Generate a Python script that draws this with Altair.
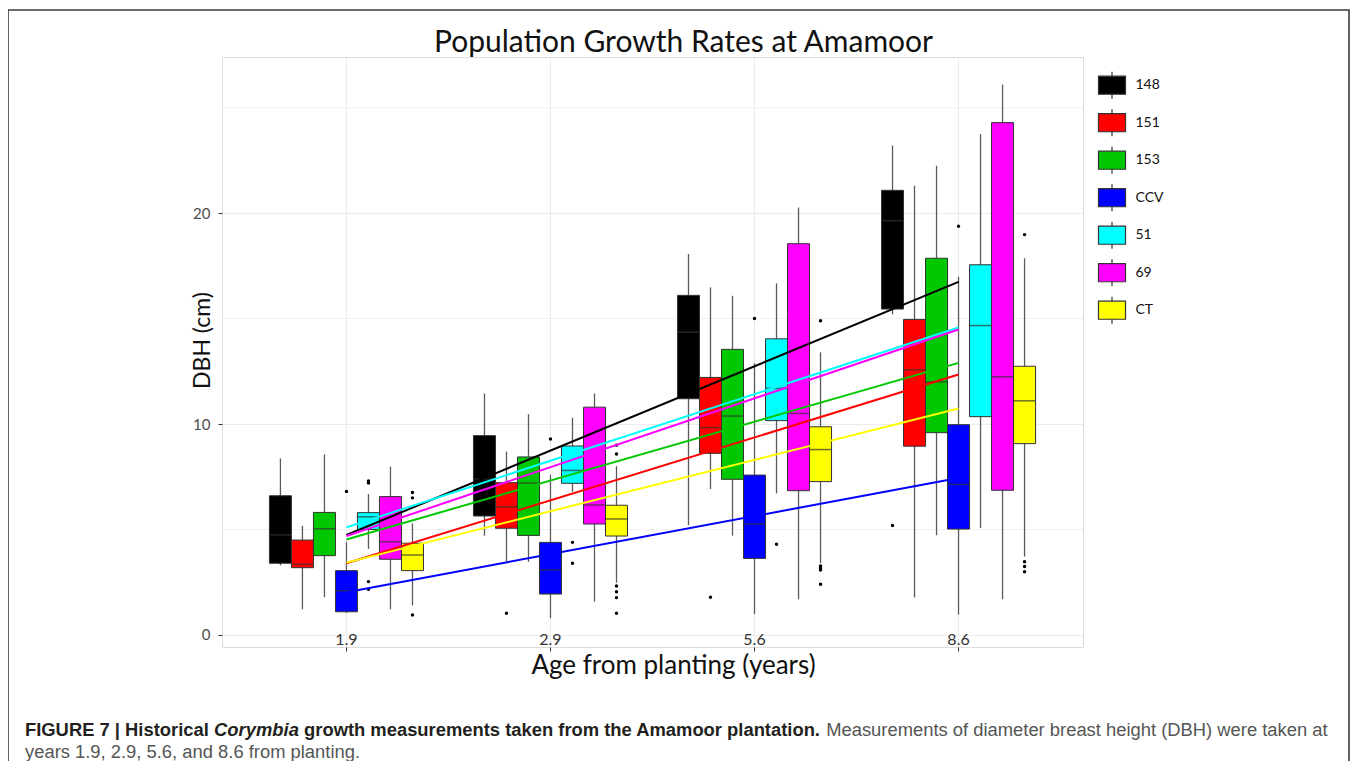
import altair as alt
import pandas as pd

# ---------------- data ----------------
ages = ["1.9", "2.9", "5.6", "8.6"]
groups = ["148", "151", "153", "CCV", "51", "69", "CT"]
colors = ["#000000", "#FF0000", "#00C800", "#0000FF", "#00FFFF", "#FF00FF", "#FFFF00"]

# rows = ages, columns = groups (same order as `groups`)
whisker_low = [
    [3.3, 1.22, 1.79, 1.05, 4.08, 1.22, 1.4],
    [4.71, 3.47, 3.47, 0.79, 6.79, 1.58, 2.48],
    [5.21, 6.92, 4.71, 0.99, 6.71, 1.69, 3.4],
    [15.2, 1.78, 4.73, 0.97, 5.07, 1.69, 3.72],
]
q1 = [
    [3.4, 3.19, 3.76, 1.1, 5.0, 3.59, 3.05],
    [5.64, 5.06, 4.72, 1.94, 7.19, 5.26, 4.69],
    [11.2, 8.61, 7.38, 3.63, 10.16, 6.84, 7.27],
    [15.45, 8.95, 9.59, 5.02, 10.35, 6.86, 9.07],
]
median = [
    [4.74, 3.35, 5.04, 2.1, 5.6, 4.42, 3.79],
    [7.39, 6.08, 7.2, 3.08, 7.8, 6.16, 5.5],
    [14.35, 9.83, 10.38, 5.26, 11.69, 10.5, 8.79],
    [19.64, 12.57, 12.0, 7.14, 14.67, 12.24, 11.1],
]
q3 = [
    [6.6, 4.5, 5.81, 3.05, 5.8, 6.56, 4.35],
    [9.45, 7.22, 8.44, 4.39, 8.96, 10.8, 6.15],
    [16.1, 12.21, 13.54, 7.58, 14.04, 18.55, 9.87],
    [21.08, 14.96, 17.86, 9.97, 17.55, 24.29, 12.74],
]
whisker_high = [
    [8.37, 5.18, 8.56, 4.4, 6.68, 7.98, 5.29],
    [11.45, 8.69, 10.47, 7.6, 10.3, 11.45, 8.0],
    [18.06, 16.48, 16.08, 12.88, 16.67, 20.27, 13.4],
    [23.2, 21.3, 22.25, 16.98, 23.75, 26.1, 17.86],
]

outlier_age = ["1.9", "1.9", "1.9", "1.9", "1.9", "1.9", "1.9", "1.9",
               "2.9", "2.9", "2.9", "2.9", "2.9", "2.9", "2.9", "2.9", "2.9", "2.9",
               "5.6", "5.6", "5.6", "5.6", "5.6", "5.6", "5.6", "5.6",
               "8.6", "8.6", "8.6", "8.6", "8.6", "8.6"]
outlier_group = ["CCV", "51", "51", "51", "51", "CT", "CT", "CT",
                 "151", "CCV", "51", "51", "CT", "CT", "CT", "CT", "CT", "CT",
                 "151", "CCV", "51", "CT", "CT", "CT", "CT", "CT",
                 "148", "CCV", "CT", "CT", "CT", "CT"]
outlier_value = [6.8, 7.2, 7.3, 2.53, 2.17, 6.75, 6.5, 0.95,
                 1.03, 9.29, 4.39, 3.4, 9.0, 8.58, 2.32, 2.05, 1.77, 1.03,
                 1.79, 15.0, 4.3, 14.9, 3.27, 3.16, 3.08, 2.4,
                 5.19, 19.38, 18.98, 3.47, 3.25, 3.0]

# fitted trend lines: value at first age (1.9) and last age (8.6)
trend_start = [4.74, 3.4, 4.53, 2.03, 5.1, 4.69, 3.43]
trend_end = [16.74, 12.35, 12.9, 7.44, 14.58, 14.48, 10.74]

minor_grid = [5, 15, 25]

title_text = "Population Growth Rates at Amamoor"
cap_p1 = "FIGURE 7 | Historical"
cap_p2 = "Corymbia"
cap_p3 = "growth measurements taken from the Amamoor plantation."
cap_p4 = "Measurements of diameter breast height (DBH) were taken at"
cap_line2 = "years 1.9, 2.9, 5.6, and 8.6 from planting."

# ---------------- tables ----------------
rows = []
for ai, a in enumerate(ages):
    for gi, g in enumerate(groups):
        rows.append(dict(age=a, group=g, lo=whisker_low[ai][gi], q1=q1[ai][gi],
                         med=median[ai][gi], q3=q3[ai][gi], hi=whisker_high[ai][gi]))
box_df = pd.DataFrame(rows)
out_df = pd.DataFrame(dict(age=outlier_age, group=outlier_group, value=outlier_value))
trend_rows = []
for gi, g in enumerate(groups):
    trend_rows.append(dict(group=g, age=ages[0], value=trend_start[gi]))
    trend_rows.append(dict(group=g, age=ages[-1], value=trend_end[gi]))
trend_df = pd.DataFrame(trend_rows)
grid_df = pd.DataFrame(dict(v=minor_grid))

# ---------------- layout ----------------
W, H = 861, 590
PAD = {"left": 214, "top": 49, "right": 267, "bottom": 114}

FONT = "Lato"
x_scale = alt.Scale(domain=ages, paddingInner=0.245, paddingOuter=0.2325)
y_scale = alt.Scale(domain=[-0.57, 27.4], nice=False, zero=False)
off_scale = alt.Scale(domain=groups, paddingInner=0, paddingOuter=0)
color_scale = alt.Scale(domain=groups, range=colors)

x_enc = alt.X("age:O", scale=x_scale, sort=ages, axis=alt.Axis(
    title="Age from planting (years)", titleFont=FONT, titleFontSize=26,
    titleFontWeight="normal", titleColor="#111", titleX=451, titleY=26,
    titleAlign="center", titleBaseline="alphabetic",
    labelAngle=0, labelPadding=-20, labelFont=FONT, labelFontSize=16, labelColor="#333",
    tickSize=4, tickColor="#333", domain=False, grid=True, gridColor="#ebebeb",
    bandPosition=0.5))

y_axis = alt.Axis(values=[0, 10, 20], title="DBH (cm)", titleFont=FONT, titleFontSize=23,
                  titleFontWeight="normal", titleColor="#111", titleX=-8, titleY=283,
                  titleAlign="center", titleBaseline="bottom", titleAngle=-90,
                  labelFont=FONT, labelFontSize=15, labelColor="#4d4d4d", labelPadding=8,
                  tickSize=4, tickColor="#333", domain=False, grid=True, gridColor="#ebebeb")

grid = alt.Chart(grid_df).mark_rule(color="#f0f0f0", strokeWidth=1).encode(
    y=alt.Y("v:Q", scale=y_scale, axis=y_axis))

whisk = alt.Chart(box_df).mark_rule(color="#5a5a5a", strokeWidth=1.3).encode(
    x=x_enc,
    xOffset=alt.XOffset("group:N", scale=off_scale, sort=groups),
    y=alt.Y("lo:Q", scale=y_scale, axis=y_axis),
    y2="hi:Q")

legend_path = "M-1,-0.67H1V0.67H-1Z M0,-1V-0.67 M0,0.67V1"
boxes = alt.Chart(box_df).mark_bar(stroke="#333333", strokeWidth=1).encode(
    x=x_enc,
    xOffset=alt.XOffset("group:N", scale=off_scale, sort=groups),
    y=alt.Y("q1:Q", scale=y_scale, axis=y_axis),
    y2="q3:Q",
    color=alt.Color("group:N", scale=color_scale, sort=groups, legend=alt.Legend(
        title=None, orient="none", legendX=871.5, legendY=9.7,
        symbolType=legend_path, symbolSize=729, symbolStrokeColor="#333333",
        symbolStrokeWidth=1.2, symbolOpacity=1, labelFont=FONT, labelFontSize=14,
        labelColor="#111", labelOffset=9, rowPadding=4.5, padding=4)))

meds = alt.Chart(box_df).mark_tick(color="#333333", thickness=1.5, size=22).encode(
    x=x_enc,
    xOffset=alt.XOffset("group:N", scale=off_scale, sort=groups),
    y=alt.Y("med:Q", scale=y_scale, axis=y_axis))

pts = alt.Chart(out_df).mark_circle(color="#000000", size=12, opacity=1).encode(
    x=x_enc,
    xOffset=alt.XOffset("group:N", scale=off_scale, sort=groups),
    y=alt.Y("value:Q", scale=y_scale, axis=y_axis))

lines = alt.Chart(trend_df).mark_line(strokeWidth=2).encode(
    x=x_enc,
    y=alt.Y("value:Q", scale=y_scale, axis=y_axis),
    color=alt.Color("group:N", scale=color_scale, sort=groups, legend=None))

# ---------------- texts ----------------
title = alt.Chart(pd.DataFrame(dict(t=[title_text]))).mark_text(
    font=FONT, fontSize=30, color="#111", align="center", baseline="alphabetic").encode(
    x=alt.value(461.5), y=alt.value(-5.5), text="t:N")

# Helvetica / Arial advance widths (per 1000 em) for the caption layout
REG = dict(zip(" (),-.0123456789|", [278, 333, 333, 278, 333, 278] + [556] * 10 + [260]))
REG.update(dict(zip("ABCDEFGHIJKLMNOPQRSTUVWXYZ",
                    [667, 667, 722, 722, 667, 611, 778, 722, 278, 500, 667, 556, 833, 722, 778,
                     667, 778, 722, 667, 611, 722, 667, 944, 667, 667, 611])))
REG.update(dict(zip("abcdefghijklmnopqrstuvwxyz",
                    [556, 556, 500, 556, 556, 278, 556, 556, 222, 222, 500, 222, 833, 556, 556,
                     556, 556, 333, 500, 278, 556, 500, 722, 500, 500, 500])))
BOLD = dict(zip(" (),-.0123456789|", [278, 333, 333, 278, 333, 278] + [556] * 10 + [280]))
BOLD.update(dict(zip("ABCDEFGHIJKLMNOPQRSTUVWXYZ",
                     [722, 722, 722, 722, 667, 611, 778, 722, 278, 556, 722, 611, 833, 722, 778,
                      667, 778, 722, 667, 611, 722, 667, 944, 667, 667, 611])))
BOLD.update(dict(zip("abcdefghijklmnopqrstuvwxyz",
                     [556, 611, 556, 611, 556, 333, 611, 611, 278, 278, 556, 278, 889, 611, 611,
                      611, 611, 389, 556, 333, 611, 556, 778, 556, 556, 500])))


def units(s, table):
    return sum(table.get(c, 556) for c in s)


SP_B, SP_R = BOLD[" "], REG[" "]
cap_left, cap_right = 25, 1328
total_units = (units(cap_p1, BOLD) + SP_B + units(cap_p2, BOLD) + SP_B
               + units(cap_p3, BOLD) + SP_R + units(cap_p4, REG))
cap_size = (cap_right - cap_left) * 1000.0 / total_units
x1 = cap_left
x2 = x1 + (units(cap_p1, BOLD) + SP_B) * cap_size / 1000
x3 = x2 + (units(cap_p2, BOLD) + SP_B) * cap_size / 1000
x4 = x3 + (units(cap_p3, BOLD) + SP_R) * cap_size / 1000
ORX, ORY = 222, 57
cap_y1, cap_y2 = 735.7 - ORY, 758.3 - ORY

CAPFONT = "Liberation Sans"


def cap_text(t, x, y, weight, style, color):
    return alt.Chart(pd.DataFrame(dict(t=[t]))).mark_text(
        font=CAPFONT, fontSize=cap_size, fontWeight=weight, fontStyle=style, color=color,
        align="left", baseline="alphabetic").encode(
        x=alt.value(x - ORX), y=alt.value(y), text="t:N")


caps = [
    cap_text(cap_p1, x1, cap_y1, "bold", "normal", "#231f20"),
    cap_text(cap_p2, x2, cap_y1, "bold", "italic", "#231f20"),
    cap_text(cap_p3, x3, cap_y1, "bold", "normal", "#231f20"),
    cap_text(cap_p4, x4, cap_y1, "normal", "normal", "#555555"),
    cap_text(cap_line2, x1, cap_y2, "normal", "normal", "#555555"),
]

frame = alt.Chart(pd.DataFrame(dict(k=[0]))).mark_rect(
    fillOpacity=0, stroke="#3c3c3c", strokeWidth=1.6).encode(
    x=alt.value(8 - ORX), x2=alt.value(1349 - ORX),
    y=alt.value(10 - ORY), y2=alt.value(790 - ORY))

chart = alt.layer(grid, whisk, boxes, meds, pts, lines, title, *caps, frame).resolve_scale(
    color="independent").properties(
    width=W, height=H, padding=PAD,
    autosize=alt.AutoSizeParams(type="none")).configure_view(
    stroke="#b0b0b0", strokeWidth=1).configure(background="white")

chart.save("out.html", embed_options={"renderer": "svg", "actions": False})
